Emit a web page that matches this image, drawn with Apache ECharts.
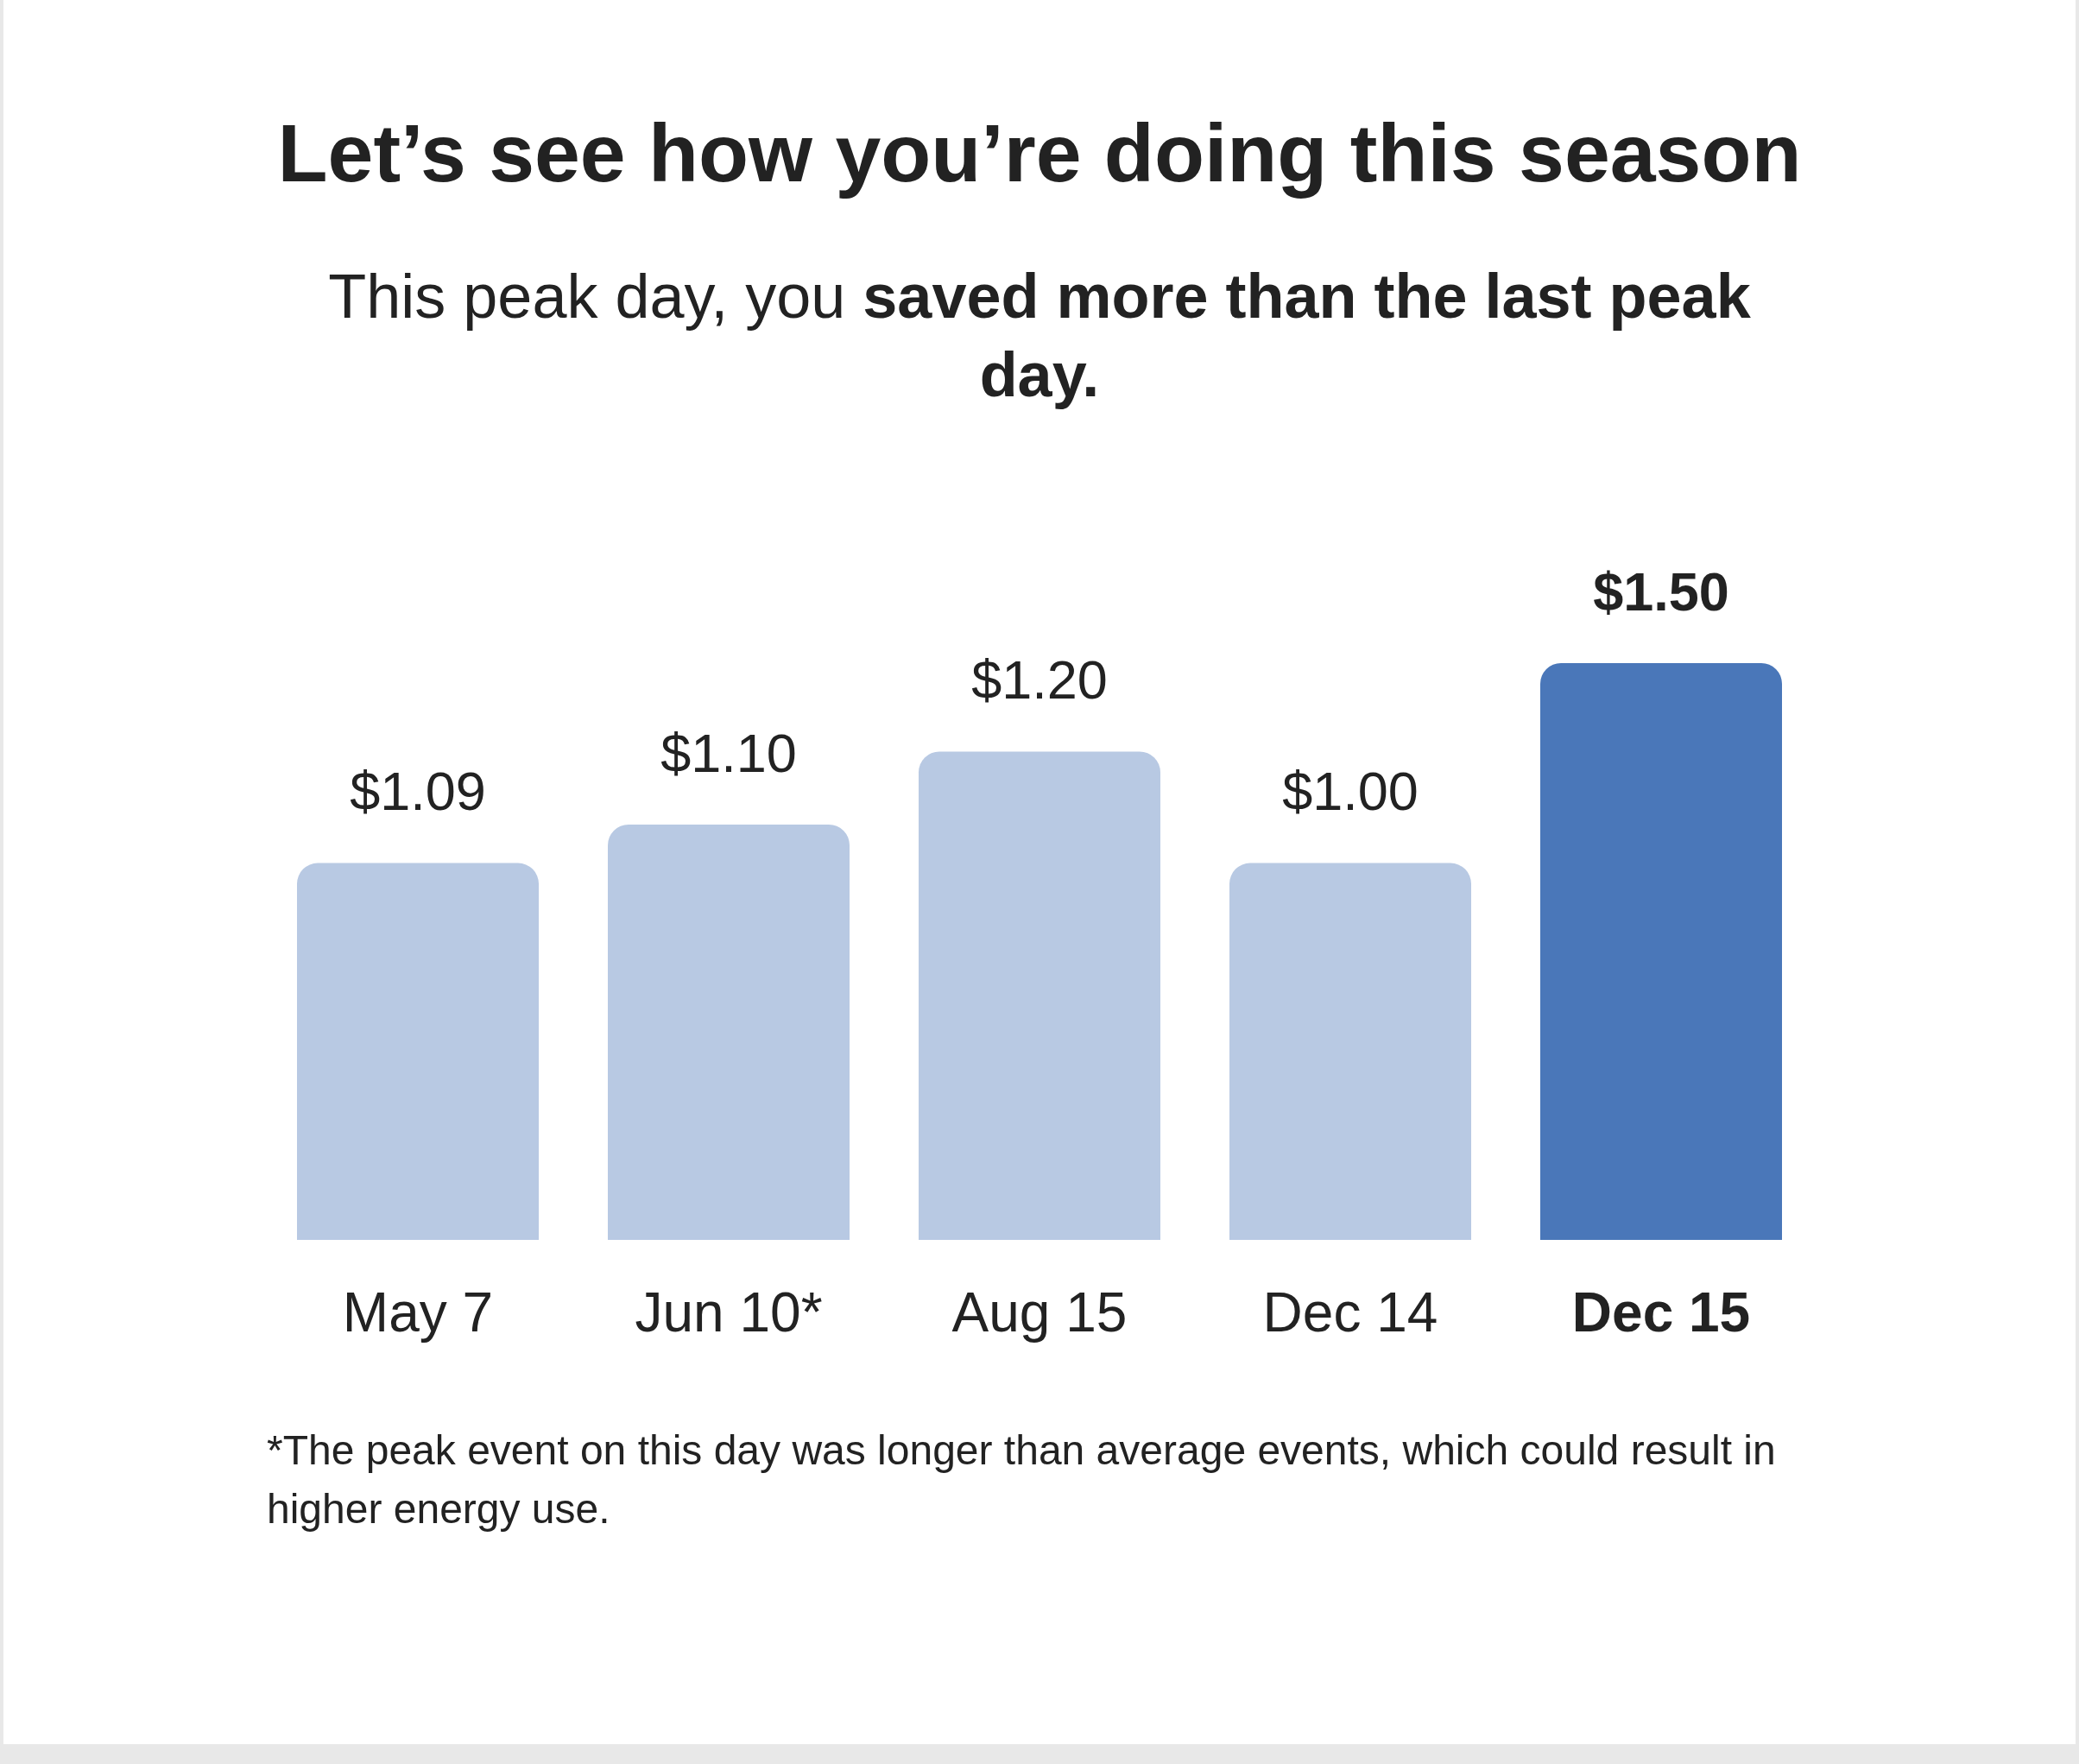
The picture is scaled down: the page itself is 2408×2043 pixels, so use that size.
<!DOCTYPE html>
<html>
<head>
<meta charset="utf-8">
<script src="https://cdn.jsdelivr.net/npm/echarts@6/dist/echarts.min.js"></script>
<style>
  html, body { margin: 0; padding: 0; background: #e8e8e8; }
  #chart { position: absolute; left: 4px; top: 0; width: 2400px; height: 2020px; background: #fff; }
</style>
</head>
<body>
<div id="chart"></div>
<script>
// peak days and what was saved on each
var peakDays = ['May 7', 'Jun 10*', 'Aug 15', 'Dec 14', 'Dec 15'];
var savings = [1.09, 1.10, 1.20, 1.00, 1.50];
// bar heights as drawn in the picture (same $ units)
var barHeights = [0.98, 1.08, 1.27, 0.98, 1.50];
var currentIndex = 4;

var FONT = '"Liberation Sans", Arial, Helvetica, sans-serif';
var TEXT = '#222222';

var myChart = echarts.init(document.getElementById('chart'));

var barData = barHeights.map(function (h, i) {
    var isCurrent = i === currentIndex;
    return {
        value: h,
        itemStyle: { color: isCurrent ? '#4a77b9' : '#b8c9e3' },
        label: { fontWeight: isCurrent ? 'bold' : 'normal' }
    };
});

myChart.setOption({
    animation: false,
    title: [
        {
            text: 'Let’s see how you’re doing this season',
            left: 'center',
            top: 131,
            textStyle: { fontFamily: FONT, fontSize: 95, fontWeight: 'bold', color: TEXT }
        },
        {
            text: 'This peak day, you {b|saved more than the last peak}',
            left: 'center',
            top: 307,
            textStyle: {
                fontFamily: FONT, fontSize: 72, fontWeight: 'normal', color: TEXT,
                rich: { b: { fontFamily: FONT, fontSize: 72, fontWeight: 'bold', color: TEXT } }
            }
        },
        {
            text: 'day.',
            left: 'center',
            top: 398,
            textStyle: { fontFamily: FONT, fontSize: 72, fontWeight: 'bold', color: TEXT }
        },
        {
            text: '*The peak event on this day was longer than average events, which could result in\nhigher energy use.',
            left: 300,
            top: 1644,
            textStyle: { fontFamily: FONT, fontSize: 48, fontWeight: 'normal', color: TEXT, lineHeight: 68 }
        }
    ],
    grid: { left: 300, right: 300, top: 768, bottom: 584 },
    xAxis: {
        type: 'category',
        data: peakDays,
        axisLine: { show: false },
        axisTick: { show: false },
        axisLabel: {
            interval: 0,
            margin: 56,
            fontFamily: FONT,
            fontSize: 64,
            color: TEXT,
            formatter: function (v, i) {
                return i === currentIndex ? '{b|' + v + '}' : v;
            },
            rich: { b: { fontFamily: FONT, fontSize: 64, fontWeight: 'bold', color: TEXT } }
        }
    },
    yAxis: {
        type: 'value',
        min: 0,
        max: 1.5,
        show: false
    },
    series: [{
        type: 'bar',
        data: barData,
        barWidth: 280,
        itemStyle: { borderRadius: [24, 24, 0, 0] },
        label: {
            show: true,
            position: 'top',
            distance: 47,
            fontFamily: FONT,
            fontSize: 63,
            color: TEXT,
            formatter: function (p) {
                return '$' + savings[p.dataIndex].toFixed(2);
            }
        }
    }]
});
</script>
</body>
</html>
